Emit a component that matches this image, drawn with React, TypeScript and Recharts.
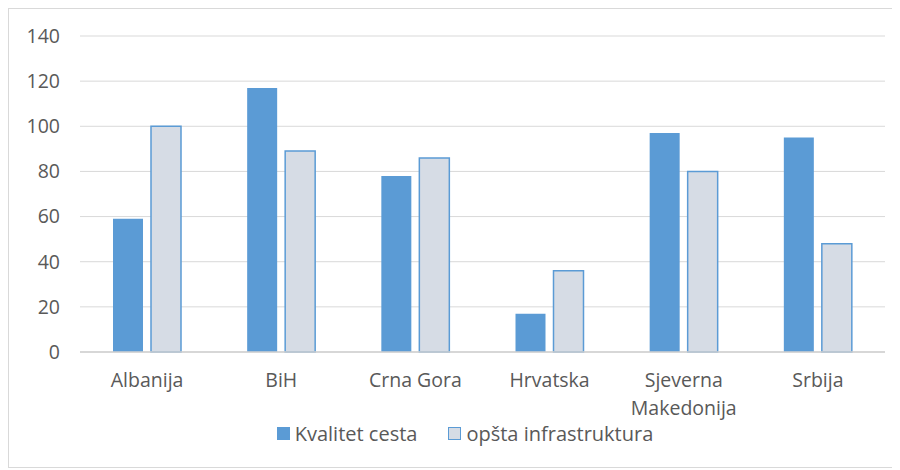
import { Bar, BarChart, CartesianGrid, Legend, XAxis, YAxis } from 'recharts'

const countries = ['Albanija', 'BiH', 'Crna Gora', 'Hrvatska', 'Sjeverna Makedonija', 'Srbija']
const kvalitetCesta = [59, 117, 78, 17, 97, 95]
const opstaInfrastruktura = [100, 89, 86, 36, 80, 48]
const yTicks = [0, 20, 40, 60, 80, 100, 120, 140]

const BLUE = '#5B9BD5'
const GRAY = '#D6DCE5'
const TEXT = '#595959'
const FONT = '"Open Sans", sans-serif'

const chartData = countries.map((name, i) => ({
  name,
  kvalitet: kvalitetCesta[i],
  opsta: opstaInfrastruktura[i],
}))

function CountryTick(props: any) {
  const { x, y, payload } = props
  const text: string = payload.value
  const lines = text.length > 12 ? text.split(' ') : [text]
  return (
    <text x={x} y={y + 35} textAnchor="middle" fill={TEXT} fontSize={19.5} fontFamily={FONT}>
      {lines.map((line, i) => (
        <tspan key={i} x={x} dy={i === 0 ? 0 : 28}>
          {line}
        </tspan>
      ))}
    </text>
  )
}

function LegendContent() {
  const item = (fill: string, stroke: string, label: string) => (
    <div style={{ display: 'flex', alignItems: 'center' }}>
      <span
        style={{
          display: 'inline-block',
          width: 13,
          height: 13,
          boxSizing: 'border-box',
          background: fill,
          border: `1.5px solid ${stroke}`,
          marginRight: 5,
        }}
      />
      <span>{label}</span>
    </div>
  )
  return (
    <div
      style={{
        display: 'flex',
        justifyContent: 'center',
        alignItems: 'center',
        gap: 31,
        height: 30,
        paddingLeft: 36,
        fontFamily: FONT,
        fontSize: 20,
        color: TEXT,
      }}
    >
      {item(BLUE, BLUE, 'Kvalitet cesta')}
      {item(GRAY, BLUE, 'opšta infrastruktura')}
    </div>
  )
}

export default function App() {
  return (
    <div
      style={{
        width: 892,
        height: 460,
        boxSizing: 'border-box',
        border: '1px solid #d9d9d9',
        background: '#fff',
      }}
    >
      <BarChart
        width={890}
        height={458}
        data={chartData}
        margin={{ top: 27, right: 14, left: 0, bottom: 19 }}
        barSize={30}
        barGap={8}
      >
        <CartesianGrid vertical={false} stroke="#d9d9d9" />
        <XAxis
          dataKey="name"
          height={66}
          tickLine={false}
          tickSize={0}
          tickMargin={0}
          axisLine={{ stroke: '#d0d0d0', strokeWidth: 1.5 }}
          tick={<CountryTick />}
          interval={0}
        />
        <YAxis
          width={71}
          domain={[0, 140]}
          ticks={yTicks}
          axisLine={false}
          tickLine={false}
          tickSize={0}
          tickMargin={20}
          tick={{ fill: TEXT, fontSize: 19.5, fontFamily: FONT }}
        />
        <Legend verticalAlign="bottom" height={30} content={<LegendContent />} />
        <Bar dataKey="kvalitet" name="Kvalitet cesta" fill={BLUE} isAnimationActive={false} />
        <Bar
          dataKey="opsta"
          name="opšta infrastruktura"
          fill={GRAY}
          stroke={BLUE}
          strokeWidth={1.5}
          isAnimationActive={false}
        />
      </BarChart>
    </div>
  )
}
